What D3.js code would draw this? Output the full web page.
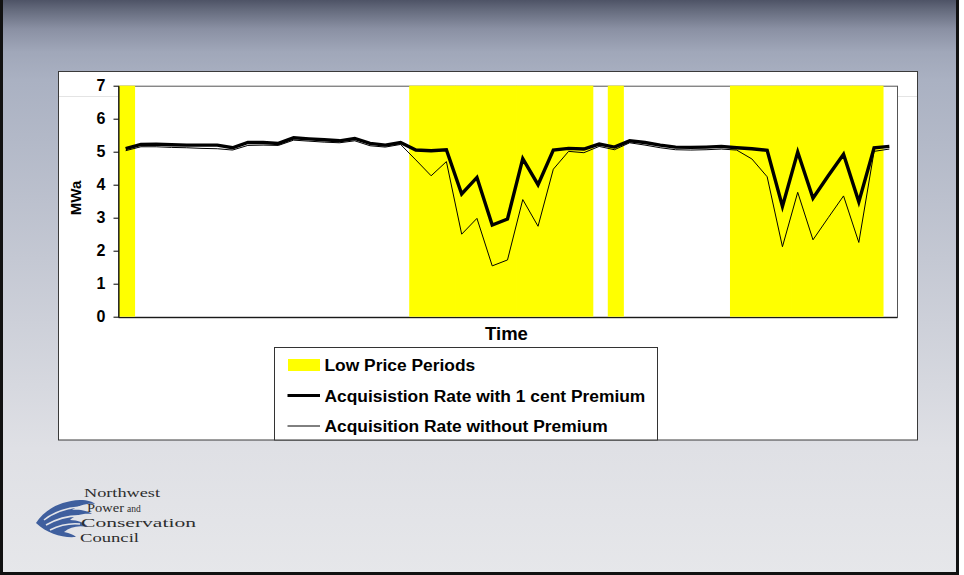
<!DOCTYPE html>
<html>
<head>
<meta charset="utf-8">
<script src="https://cdn.jsdelivr.net/npm/d3@7"></script>
<style>
  html, body { margin: 0; padding: 0; background: #ffffff; }
  svg { display: block; }
</style>
</head>
<body>
<svg id="chart" width="964" height="575"></svg>
<script>
// Time periods on the horizontal axis (no labels are shown)
const periods = [
  1, 2, 3, 4, 5, 6, 7, 8, 9, 10, 11, 12, 13, 14, 15, 16, 17,
  18, 19, 20, 21, 22, 23, 24, 25, 26, 27, 28, 29, 30, 31, 32, 33, 34,
  35, 36, 37, 38, 39, 40, 41, 42, 43, 44, 45, 46, 47, 48, 49, 50, 51
];

// 1 = low price period (shaded column), 0 = normal
const lowPrice = [
  1, 0, 0, 0, 0, 0, 0, 0, 0, 0, 0, 0, 0, 0, 0, 0, 0,
  0, 0, 1, 1, 1, 1, 1, 1, 1, 1, 1, 1, 1, 1, 0, 1, 0,
  0, 0, 0, 0, 0, 0, 1, 1, 1, 1, 1, 1, 1, 1, 1, 1, 0
];

// Acquisition rate with 1 cent premium (MWa)
const withPremium = [
  5.09, 5.22, 5.23, 5.21, 5.20, 5.20, 5.20, 5.12, 5.28, 5.28, 5.25, 5.42, 5.39, 5.36, 5.33, 5.40, 5.25,
  5.20, 5.28, 5.05, 5.03, 5.06, 3.72, 4.22, 2.78, 2.96, 4.79, 4.00, 5.05, 5.10, 5.08, 5.23, 5.14, 5.33,
  5.28, 5.20, 5.14, 5.13, 5.14, 5.16, 5.12, 5.09, 5.04, 3.34, 4.99, 3.59, 4.27, 4.92, 3.48, 5.12, 5.16
];

// Acquisition rate without premium (MWa)
const withoutPremium = [
  5.03, 5.15, 5.15, 5.13, 5.12, 5.10, 5.09, 5.05, 5.19, 5.20, 5.19, 5.35, 5.32, 5.29, 5.27, 5.33, 5.18,
  5.14, 5.22, 4.75, 4.27, 4.70, 2.50, 2.98, 1.54, 1.72, 3.55, 2.74, 4.47, 5.01, 4.97, 5.16, 5.06, 5.27,
  5.20, 5.12, 5.06, 5.05, 5.06, 5.08, 5.05, 4.78, 4.24, 2.12, 3.77, 2.33, 3.00, 3.66, 2.25, 5.01, 5.08
];

const yTicks = [0, 1, 2, 3, 4, 5, 6, 7];
const legendLabels = [
  "Low Price Periods",
  "Acquisistion Rate with 1 cent Premium",
  "Acquisition Rate without Premium"
];
const logoLines = ["Northwest", "Power", "and", "Conservation", "Council"];

const sans = "'Liberation Sans', Arial, sans-serif";
const serif = "'Liberation Serif', 'Times New Roman', serif";

const svg = d3.select("#chart");
const defs = svg.append("defs");

// Slide background
const bg = defs.append("linearGradient")
  .attr("id", "slideBg").attr("x1", 0).attr("y1", 0).attr("x2", 0).attr("y2", 1);
[[0, "#4e5366"], [0.015, "#62687a"], [0.05, "#8a90a3"], [0.09, "#a0a7b9"],
 [0.14, "#aab1c2"], [0.45, "#c4c8d3"], [0.78, "#dfe0e5"], [1, "#e6e7ea"]]
  .forEach(([o, c]) => bg.append("stop").attr("offset", o).attr("stop-color", c));

svg.append("rect").attr("x", 0).attr("y", 0).attr("width", 959).attr("height", 575)
  .attr("fill", "url(#slideBg)");
svg.append("rect").attr("x", 1.5).attr("y", -3).attr("width", 956).attr("height", 576.5)
  .attr("fill", "none").attr("stroke", "#111").attr("stroke-width", 3);

// White chart panel
svg.append("rect").attr("x", 58.5).attr("y", 71.5).attr("width", 859).attr("height", 368.5)
  .attr("fill", "#ffffff").attr("stroke", "#3a3a3a").attr("stroke-width", 1);
svg.append("line").attr("x1", 59).attr("x2", 917).attr("y1", 96.5).attr("y2", 96.5)
  .attr("stroke", "#e4e4e4").attr("stroke-width", 1);

// Plot area
const plot = { left: 118, right: 897, top: 85.7, bottom: 316.7 };

const x = d3.scaleBand()
  .domain(periods)
  .range([plot.left, plot.right])
  .padding(0);

const y = d3.scaleLinear()
  .domain([0, 7])
  .range([plot.bottom, plot.top]);

const g = svg.append("g");

// Plot frame
g.append("rect")
  .attr("x", plot.left + 0.5).attr("y", plot.top + 0.5)
  .attr("width", plot.right - plot.left).attr("height", plot.bottom - plot.top)
  .attr("fill", "#ffffff").attr("stroke", "#555").attr("stroke-width", 1);

// Low price periods as full-height columns (slightly widened so neighbours join)
g.append("g").selectAll("rect")
  .data(periods.filter((p, i) => lowPrice[i] === 1))
  .join("rect")
  .attr("x", d => x(d) + 1)
  .attr("width", x.bandwidth() + 0.8)
  .attr("y", y(7))
  .attr("height", y(0) - y(7))
  .attr("fill", "#ffff00");

const line = d3.line()
  .x((d, i) => x(periods[i]) + x.bandwidth() / 2)
  .y(d => y(d));

g.append("path").datum(withoutPremium)
  .attr("d", line).attr("fill", "none")
  .attr("stroke", "#000").attr("stroke-width", 1).attr("stroke-linejoin", "miter");

g.append("path").datum(withPremium)
  .attr("d", line).attr("fill", "none")
  .attr("stroke", "#000").attr("stroke-width", 3.4).attr("stroke-linejoin", "miter");

// Axes
const yAxis = d3.axisLeft(y).tickValues(yTicks).tickSize(5).tickSizeOuter(0).tickPadding(8)
  .tickFormat(d3.format("d"));
const yg = g.append("g").attr("transform", `translate(${plot.left + 0.5},0)`).call(yAxis);
yg.select(".domain").attr("stroke", "#000");
yg.selectAll(".tick line").attr("stroke", "#000");
yg.selectAll(".tick text")
  .style("font-family", sans)
  .style("font-size", "16px").style("font-weight", "bold").attr("fill", "#000");

const xAxis = d3.axisBottom(x).tickValues([]).tickSizeOuter(0);
const xg = g.append("g").attr("transform", `translate(0,${plot.bottom + 0.5})`).call(xAxis);
xg.select(".domain").attr("stroke", "#000");

// Axis titles
svg.append("text")
  .attr("transform", `translate(81,198) rotate(-90)`)
  .attr("text-anchor", "middle")
  .style("font-family", sans).style("font-size", "15px").style("font-weight", "bold")
  .attr("fill", "#000")
  .text("MWa");

svg.append("text")
  .attr("x", (plot.left + plot.right) / 2 - 1).attr("y", 340)
  .attr("text-anchor", "middle")
  .style("font-family", sans).style("font-size", "18.5px").style("font-weight", "bold")
  .attr("fill", "#000")
  .text("Time");

// Legend
const lg = svg.append("g");
lg.append("rect").attr("x", 274.5).attr("y", 347.5).attr("width", 383).attr("height", 92.5)
  .attr("fill", "#fff").attr("stroke", "#333").attr("stroke-width", 1);

const rows = [
  { y: 365, kind: "swatch" },
  { y: 395.5, kind: "thick" },
  { y: 426, kind: "thin" }
];
rows.forEach((r, i) => {
  if (r.kind === "swatch") {
    lg.append("rect").attr("x", 288).attr("y", 359).attr("width", 32).attr("height", 12)
      .attr("fill", "#ffff00");
  } else {
    lg.append("line").attr("x1", 287.5).attr("x2", 320).attr("y1", r.y).attr("y2", r.y)
      .attr("stroke", "#000").attr("stroke-width", r.kind === "thick" ? 3 : 1);
  }
  lg.append("text").attr("x", 324.5).attr("y", r.y + 6)
    .style("font-family", sans).style("font-size", "17.4px").style("font-weight", "bold")
    .attr("fill", "#000")
    .text(legendLabels[i]);
});

// Council logo
const logo = svg.append("g");
const blue = "#3f5f9e";
logo.append("path")
  .attr("d", "M36,523 C44,510 60,501 80,500 C88,500 93,502 95,504 C86,503 78,506 72,510 C80,509 88,511 92,514 C82,513 74,516 70,520 C78,520 85,523 88,527 C78,525 70,527 64,532 C70,533 74,535 76,537 C62,538 48,534 36,523 Z")
  .attr("fill", blue);
[
  "M44,520 C54,512 66,508 80,507",
  "M46,525 C58,518 70,515 84,516",
  "M50,530 C60,525 70,523 80,524"
].forEach(d => logo.append("path").attr("d", d)
  .attr("fill", "none").attr("stroke", "#e4e5e9").attr("stroke-width", 1.6));

const logoText = (txt, xPos, yPos, size, len) => {
  const t = logo.append("text").attr("x", xPos).attr("y", yPos)
    .style("font-family", serif).style("font-size", size + "px").attr("fill", "#2e2e2e")
    .text(txt);
  if (len) t.attr("textLength", len).attr("lengthAdjust", "spacingAndGlyphs");
  return t;
};
logoText(logoLines[0], 84, 497, 13.5, 76);
logoText(logoLines[1], 87, 512, 13.5, 37);
logoText(logoLines[2], 127, 512, 9.5, 0);
logoText(logoLines[3], 81, 527, 13.5, 115);
logoText(logoLines[4], 80, 542, 13.5, 59);
</script>
</body>
</html>
